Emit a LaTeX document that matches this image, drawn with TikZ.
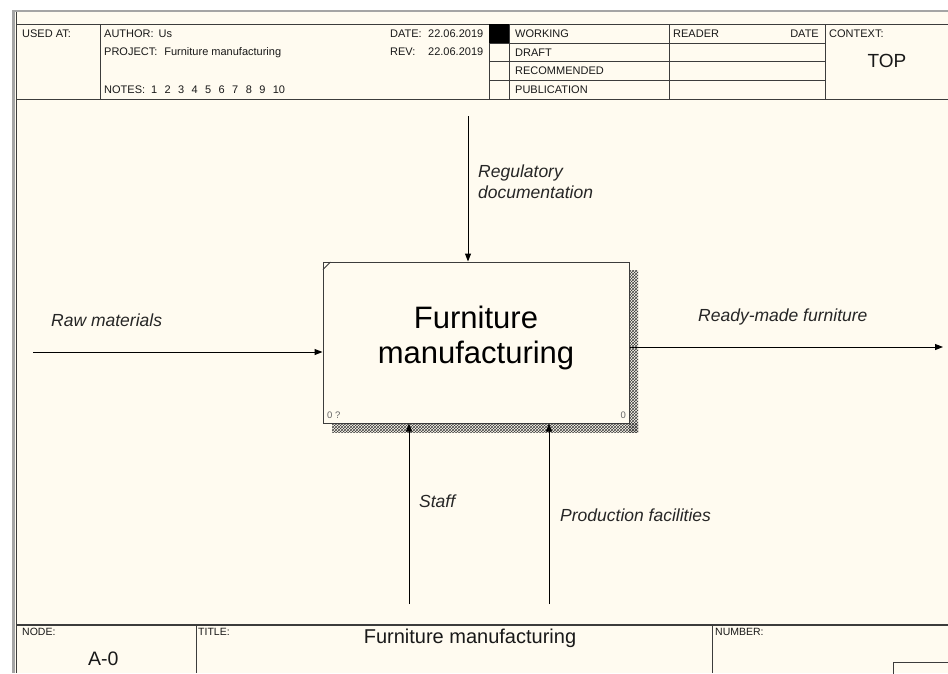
\documentclass[tikz,border=0pt]{standalone}
\usepackage{fontspec}
\setmainfont{Liberation Sans}
\usetikzlibrary{arrows.meta,patterns}
\definecolor{cream}{RGB}{255,251,240}
\definecolor{linegray}{RGB}{60,60,60}
\definecolor{framegray}{RGB}{165,165,165}
\begin{document}
\begin{tikzpicture}[x=1pt,y=-1pt,
  rule/.style={draw=linegray,line width=1pt},
  fatrule/.style={draw=linegray,line width=1.6pt},
  flow/.style={draw=black,line width=1pt,-{Triangle[length=8pt,width=6pt]}},
  lbl/.style={font=\fontsize{17.5}{21}\selectfont\itshape,inner sep=0pt,anchor=base west,text=black!85},
  hdr/.style={font=\fontsize{11}{12}\selectfont,inner sep=0pt,anchor=base west,text=black!90},
  ftr/.style={font=\fontsize{10.5}{11}\selectfont,inner sep=0pt,anchor=base west,text=black!90},
  activity/.style={draw=linegray,line width=1pt,fill=cream,minimum width=306pt,minimum height=161pt,inner sep=0pt},
  boxtitle/.style={font=\fontsize{31}{35}\selectfont,align=center,inner sep=0pt,text=black},
  tiny/.style={font=\fontsize{9.5}{10}\selectfont,inner sep=0pt,anchor=base west,text=black!60}
]
\useasboundingbox (0,0) rectangle (948,673);
\clip (0,0) rectangle (948,673);
% background and window frame
\fill[white] (0,0) rectangle (948,673);
\fill[cream] (13,11) rectangle (948,673);
\fill[framegray] (12,10) rectangle (948,12);
\fill[framegray] (12,10) rectangle (14.5,673);
\draw[rule] (16,12) -- (16,673);

% header table
\draw[rule] (16,24) -- (948,24);
\draw[rule] (16,99) -- (948,99);
\draw[rule] (100,24) -- (100,99);
\draw[rule] (489,24) -- (489,99);
\draw[rule] (509,24) -- (509,99);
\draw[rule] (669,24) -- (669,99);
\draw[rule] (825,24) -- (825,99);
\foreach \yy in {43,61,80} \draw[rule] (489,\yy) -- (825,\yy);
\fill[black] (489,24) rectangle (509,43);

\node[hdr] (usedat) at (22,37) {USED AT:};
\node[hdr] (author) at (104,37) {AUTHOR:\hspace{5pt}Us};
\node[hdr] (project) at (104,55) {PROJECT:\hspace{7pt}Furniture manufacturing};
\node[hdr] (notes) at (104,93) {NOTES:\hspace{6pt}1\hspace{7.4pt}2\hspace{7.4pt}3\hspace{7.4pt}4\hspace{7.4pt}5\hspace{7.4pt}6\hspace{7.4pt}7\hspace{7.4pt}8\hspace{7.4pt}9\hspace{7.4pt}10};
\node[hdr] (date) at (390,37) {\makebox[38pt][l]{DATE:}22.06.2019};
\node[hdr] (rev) at (390,55) {\makebox[38pt][l]{REV:}22.06.2019};
\node[hdr] (working) at (515,37) {WORKING};
\node[hdr] (draft) at (515,56) {DRAFT};
\node[hdr] (recommended) at (515,74) {RECOMMENDED};
\node[hdr] (publication) at (515,93) {PUBLICATION};
\node[hdr] (reader) at (673,37) {READER};
\node[hdr,anchor=base east] (rdate) at (819,37) {DATE};
\node[hdr] (context) at (829,37) {CONTEXT:};
\node[font=\fontsize{19}{22}\selectfont,inner sep=0pt,anchor=base,text=black!90] (top) at (887,67) {TOP};

% footer
\draw[fatrule] (16,625) -- (948,625);
\draw[rule] (196,625) -- (196,673);
\draw[rule] (712,625) -- (712,673);
\draw[rule] (893,662) rectangle (980,700);
\node[ftr] (nodelbl) at (22,635) {NODE:};
\node[font=\fontsize{19.5}{22}\selectfont,inner sep=0pt,anchor=base west,text=black!90] (nodeval) at (88,665) {A-0};
\node[ftr] (titlelbl) at (198,635) {TITLE:};
\node[font=\fontsize{20}{22}\selectfont,inner sep=0pt,anchor=base,text=black!90] (titleval) at (470,643) {Furniture manufacturing};
\node[ftr] (numberlbl) at (715,635) {NUMBER:};

% activity box with shadow
\fill[pattern=crosshatch,pattern color=black!75] (629,270) rectangle (638,432);
\fill[pattern=crosshatch,pattern color=black!75] (332,423) rectangle (638,432);
\node[activity] (box) at (476,342.5) {};
\node[boxtitle,yshift=5pt] (boxtitle) at (box.center) {Furniture\\manufacturing};
\draw[draw=linegray,line width=0.8pt] (323,269.5) -- (330.5,262);
\node[tiny] (boxnum) at (327,418) {0 ?};
\node[tiny,anchor=base east] (boxcost) at (626,418) {0};

% arrows
\coordinate (ctrl) at (468,116);
\coordinate (inp) at (33,352);
\coordinate (outp) at (943,347);
\coordinate (staff) at (409,604);
\coordinate (facil) at (549,604);
\draw[flow] (ctrl) -- (ctrl |- box.north);
\draw[flow] (inp) -- (inp -| box.west);
\draw[flow] (box.east |- outp) -- (outp);
\draw[flow] (staff) -- (staff |- box.south);
\draw[flow] (facil) -- (facil |- box.south);

% labels
\node[lbl,anchor=north west,align=left] (ctrllbl) at (478,164.5) {Regulatory\\documentation};
\node[lbl] (inplbl) at (51,326) {Raw materials};
\node[lbl] (outlbl) at (698,321) {Ready-made furniture};
\node[lbl] (stafflbl) at (419,507) {Staff};
\node[lbl] (faclbl) at (560,521) {Production facilities};
\end{tikzpicture}
\end{document}
